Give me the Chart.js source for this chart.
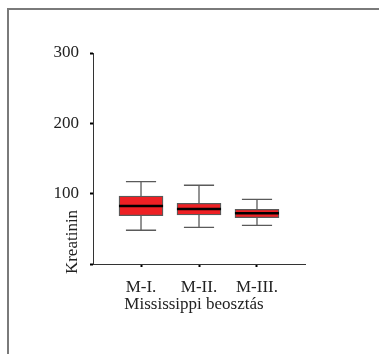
<!DOCTYPE html>
<html>
<head>
<meta charset="utf-8">
<script src="https://cdn.jsdelivr.net/npm/chart.js@4"></script>
<style>
  body { margin: 0; background: #fff; }
  #wrap { position: relative; width: 379px; height: 354px; overflow: hidden; }
  #frame { position: absolute; left: 7px; top: 8px; width: 400px; height: 400px;
           border-left: 2px solid #7a7a7a; border-top: 2px solid #7a7a7a; }
  canvas { position: absolute; left: 0; top: 0; }
</style>
</head>
<body>
<div id="wrap">
  <div id="frame"></div>
  <canvas id="boxChart" width="379" height="354"></canvas>
</div>
<script>
const categories = ["M-I.", "M-II.", "M-III."];
const whiskerLow = [48, 52, 55];
const q1 = [68.7, 69.7, 65.8];
const median = [82.5, 78.2, 72.1];
const q3 = [96.7, 86.3, 77.8];
const whiskerHigh = [117, 112, 92];
const yTicks = [0, 100, 200, 300];

const font = { family: "'Liberation Serif', 'Times New Roman', serif", size: 17 };

// whiskers and median lines, placed with the chart's own scales
const boxExtras = {
  id: "boxExtras",
  afterDatasetsDraw(chart) {
    const ctx = chart.ctx;
    const xs = chart.scales.x, ys = chart.scales.y;
    ctx.save();
    categories.forEach((c, i) => {
      const x = xs.getPixelForValue(i + 1);
      const half = xs.getPixelForValue(i + 1.26) - x;
      const boxHalf = xs.getPixelForValue(i + 1.38) - x;
      const yLo = ys.getPixelForValue(whiskerLow[i]);
      const yHi = ys.getPixelForValue(whiskerHigh[i]);
      const yQ1 = ys.getPixelForValue(q1[i]);
      const yQ3 = ys.getPixelForValue(q3[i]);
      const yMed = ys.getPixelForValue(median[i]);
      ctx.strokeStyle = "#5a5a5a";
      ctx.lineWidth = 1.3;
      ctx.beginPath();
      ctx.moveTo(x, yQ3); ctx.lineTo(x, yHi);
      ctx.moveTo(x, yQ1); ctx.lineTo(x, yLo);
      ctx.moveTo(x - half, yHi); ctx.lineTo(x + half, yHi);
      ctx.moveTo(x - half, yLo); ctx.lineTo(x + half, yLo);
      ctx.stroke();
      ctx.strokeStyle = "#000";
      ctx.lineWidth = 2.5;
      ctx.beginPath();
      ctx.moveTo(x - boxHalf, yMed); ctx.lineTo(x + boxHalf, yMed);
      ctx.stroke();
    });
    ctx.restore();
  },
  afterDraw(chart) {
    const ctx = chart.ctx;
    const a = chart.chartArea;
    ctx.save();
    ctx.fillStyle = "#222";
    ctx.font = font.size + "px " + font.family;
    ctx.textAlign = "center";
    ctx.textBaseline = "middle";
    ctx.fillText("Mississippi beosztás", (a.left + a.right) / 2 - 5, 305);
    ctx.translate(73, 242);
    ctx.rotate(-Math.PI / 2);
    ctx.fillText("Kreatinin", 0, 0);
    ctx.restore();
  }
};

new Chart(document.getElementById("boxChart"), {
  type: "bar",
  data: {
    datasets: [{
      data: categories.map((c, i) => ({ x: i + 1, y: [q1[i], q3[i]] })),
      backgroundColor: "#ee2024",
      borderColor: "#5a5a5a",
      borderWidth: 1.3,
      borderSkipped: false,
      barThickness: 44
    }]
  },
  options: {
    responsive: false,
    animation: false,
    layout: { padding: { left: 0, top: 53, right: 74, bottom: 0 } },
    plugins: { legend: { display: false }, tooltip: { enabled: false } },
    scales: {
      x: {
        type: "linear",
        offset: false,
        min: 0.172,
        max: 3.828,
        afterBuildTicks: (s) => { s.ticks = categories.map((c, i) => ({ value: i + 1 })); },
        afterFit: (s) => { s.height = 90; },
        ticks: {
          callback: (v) => categories[v - 1] || "",
          font: font,
          color: "#222",
          padding: 10,
          maxRotation: 0
        },
        grid: { drawOnChartArea: false, offset: false, tickLength: 3, color: "#000", tickWidth: 2 },
        border: { color: "#333", width: 1 }
      },
      y: {
        min: 0,
        max: 300,
        afterBuildTicks: (s) => { s.ticks = yTicks.map(v => ({ value: v })); },
        afterFit: (s) => { s.width = 93; },
        ticks: {
          callback: (v) => v === 0 ? "" : v,
          font: font,
          color: "#222",
          padding: 11
        },
        grid: { drawOnChartArea: false, tickLength: 3, color: "#000", tickWidth: 2 },
        border: { color: "#333", width: 1 }
      }
    }
  },
  plugins: [boxExtras]
});
</script>
</body>
</html>
